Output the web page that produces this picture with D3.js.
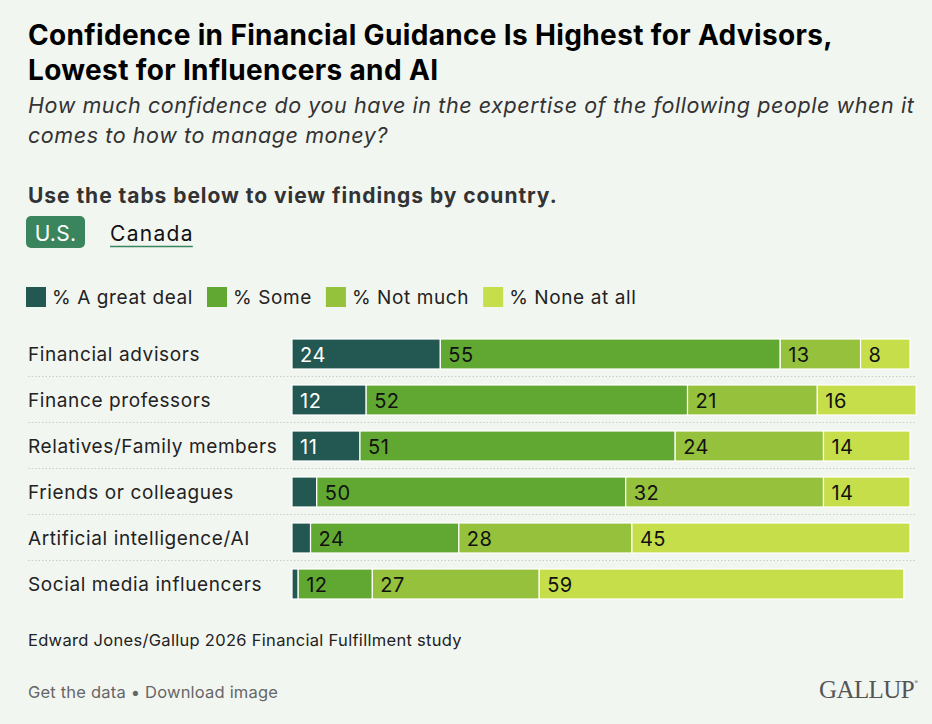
<!DOCTYPE html>
<meta charset="utf-8">
<style>
  html, body { margin: 0; padding: 0; background: #f2f6f1; }
  svg { display: block; font-family: Inter, "Noto Sans", sans-serif; }
</style>
<body>
<script src="https://cdn.jsdelivr.net/npm/d3@7"></script>
<script>

var w = 932,
    h = 724;

var categories = ["Financial advisors", "Finance professors", "Relatives/Family members",
                  "Friends or colleagues", "Artificial intelligence/AI", "Social media influencers"];
var seriesNames = ["% A great deal", "% Some", "% Not much", "% None at all"];
var greatDeal = [24, 12, 11, 4, 3, 1];
var some      = [55, 52, 51, 50, 24, 12];
var notMuch   = [13, 21, 24, 32, 28, 27];
var noneAtAll = [8, 16, 14, 14, 45, 59];
var shownLabels = [[true, true, true, true], [true, true, true, true], [true, true, true, true],
                   [false, true, true, true], [false, true, true, true], [false, true, true, true]];
var colors = ["#235751", "#61a832", "#95c13c", "#c5de4a"];

var svg = d3.select("body").append("svg")
    .attr("width", w)
    .attr("height", h);

svg.append("rect").attr("width", w).attr("height", h).attr("fill", "#f2f6f1");

// Title + subtitle
var title = svg.append("text").attr("font-size", 28).attr("font-weight", 700)
    .attr("letter-spacing", 0.35).attr("fill", "#000");
title.append("tspan").attr("x", 28).attr("y", 45).text("Confidence in Financial Guidance Is Highest for Advisors,");
title.append("tspan").attr("x", 28).attr("y", 80).text("Lowest for Influencers and AI");

var sub = svg.append("text").attr("font-size", 21.5).attr("font-style", "italic")
    .attr("letter-spacing", 0.58).attr("fill", "#333");
sub.append("tspan").attr("x", 28).attr("y", 113).text("How much confidence do you have in the expertise of the following people when it");
sub.append("tspan").attr("x", 28).attr("y", 143).text("comes to how to manage money?");

svg.append("text").attr("x", 28).attr("y", 203)
    .attr("font-size", 21).attr("font-weight", 700).attr("letter-spacing", 0.95).attr("fill", "#333")
    .text("Use the tabs below to view findings by country.");

// Tabs
svg.append("rect").attr("x", 26).attr("y", 216).attr("width", 59).attr("height", 32).attr("rx", 5)
    .attr("fill", "#3a855e");
svg.append("text").attr("x", 55.5).attr("y", 241).attr("text-anchor", "middle")
    .attr("font-size", 21).attr("letter-spacing", 0.3).attr("fill", "#fff").text("U.S.");
var canada = svg.append("text").attr("x", 110).attr("y", 241)
    .attr("font-size", 21).attr("letter-spacing", 1.3).attr("fill", "#111").text("Canada");
var cw = canada.node().getComputedTextLength();
svg.append("line").attr("x1", 110).attr("x2", 110 + cw - 1).attr("y1", 246.5).attr("y2", 246.5)
    .attr("stroke", "#3a855e").attr("stroke-width", 1.5);

// Legend
var lx = 26;
seriesNames.forEach(function(name, i) {
  svg.append("rect").attr("x", lx).attr("y", 287).attr("width", 20).attr("height", 20).attr("fill", colors[i]);
  var t = svg.append("text").attr("x", lx + 26).attr("y", 304)
      .attr("font-size", 19).attr("letter-spacing", 0.6).attr("fill", "#222").text(name);
  lx += 26 + t.node().getComputedTextLength() + 14;
});

// Chart
var x = d3.scaleLinear().domain([0, 100]).range([292, 910]);

var rows = categories.map(function(c, i) {
  var vals = [greatDeal[i], some[i], notMuch[i], noneAtAll[i]];
  var acc = 0;
  return { name: c, segs: vals.map(function(v, j) {
    var s = { x0: acc, x1: acc + v, v: v, k: j, show: shownLabels[i][j] };
    acc += v;
    return s;
  }) };
});

var rowStep = 46, barH = 30, chartTop = 339;
function rowY(i) { return chartTop + i * rowStep; }

// separators
svg.append("g").selectAll("line")
    .data(categories.slice(0, -1))
  .enter().append("line")
    .attr("x1", 28).attr("x2", 917)
    .attr("y1", function(d, i) { return rowY(i) + barH + 7.5; })
    .attr("y2", function(d, i) { return rowY(i) + barH + 7.5; })
    .attr("stroke", "#c9cec9").attr("stroke-width", 1).attr("stroke-dasharray", "1.5,2");

var row = svg.append("g").selectAll("g")
    .data(rows)
  .enter().append("g")
    .attr("transform", function(d, i) { return "translate(0," + rowY(i) + ")"; });

row.append("text")
    .attr("x", 28).attr("y", 22)
    .attr("font-size", 19).attr("letter-spacing", 0.6).attr("fill", "#222")
    .text(function(d) { return d.name; });

row.selectAll("rect")
    .data(function(d) { return d.segs; })
  .enter().append("rect")
    .attr("x", function(d) { return x(d.x0); })
    .attr("y", 0)
    .attr("width", function(d) { return x(d.x1) - x(d.x0); })
    .attr("height", barH)
    .attr("fill", function(d) { return colors[d.k]; })
    .attr("stroke", "#fff").attr("stroke-width", 1.2);

row.selectAll("text.val")
    .data(function(d) { return d.segs.filter(function(s) { return s.show; }); })
  .enter().append("text")
    .attr("class", "val")
    .attr("x", function(d) { return x(d.x0) + 8; })
    .attr("y", 22.5)
    .attr("font-size", 20).attr("letter-spacing", 0.5)
    .attr("fill", function(d) { return d.k === 0 ? "#fff" : "#111"; })
    .text(function(d) { return d.v; });

// Footer
svg.append("text").attr("x", 28).attr("y", 646)
    .attr("font-size", 16.5).attr("letter-spacing", 0.3).attr("fill", "#222")
    .text("Edward Jones/Gallup 2026 Financial Fulfillment study");
svg.append("text").attr("x", 28).attr("y", 698)
    .attr("font-size", 16.5).attr("letter-spacing", 0.2).attr("fill", "#666")
    .text("Get the data \u2022 Download image");
svg.append("text").attr("x", 914).attr("y", 698).attr("text-anchor", "end")
    .attr("font-family", "'Liberation Serif', 'DejaVu Serif', serif")
    .attr("font-size", 25).attr("fill", "#555").attr("letter-spacing", -0.6)
    .text("GALLUP");
svg.append("text").attr("x", 914.5).attr("y", 684).attr("font-size", 5).attr("fill", "#555").text("\u00ae");

</script>
